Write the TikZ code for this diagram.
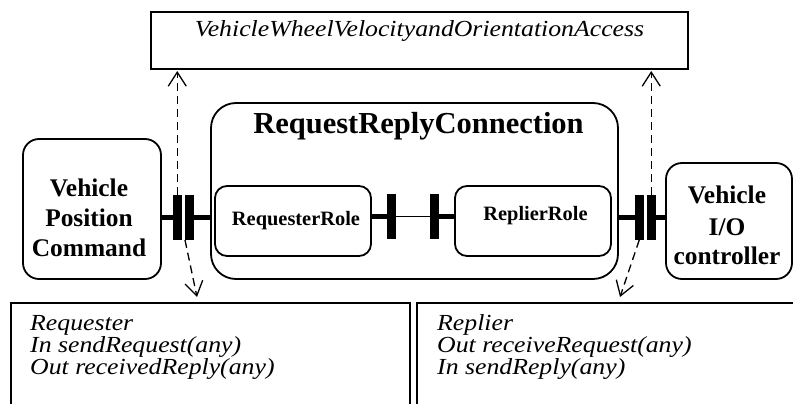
\documentclass[tikz,border=0pt]{standalone}
\usepackage{fontspec}
\setmainfont{Liberation Serif}
\newfontfamily\itf{Liberation Serif}[FakeStretch=1.12]
\usetikzlibrary{arrows.meta}
\begin{document}
\begin{tikzpicture}[x=1pt,y=-1pt,
  box/.style={draw,line width=1.8pt,inner sep=0pt,outer sep=0pt,anchor=north west},
  bar/.style={fill=black,inner sep=0pt,outer sep=0pt,minimum width=8.5pt,minimum height=45pt,anchor=north west},
  stem/.style={line width=5pt},
  wire/.style={line width=1.2pt},
  dep/.style={dash pattern=on 8pt off 5pt,line width=1.3pt,-{Straight Barb[length=14pt,width=18pt]}},
  ittxt/.style={inner sep=0pt,font=\itf\itshape\fontsize{23}{23}\selectfont},
  bigbold/.style={inner sep=0pt,anchor=base,font=\bfseries\fontsize{30.5}{30.5}\selectfont},
  midbold/.style={inner sep=0pt,anchor=base,font=\bfseries\fontsize{25.4}{25.4}\selectfont},
  smallbold/.style={inner sep=0pt,anchor=base,font=\bfseries\fontsize{20.4}{20.4}\selectfont}
]
\useasboundingbox (0,0) rectangle (793,404);
\clip (0,0) rectangle (793,404);
% boxes
\node[box,minimum width=537pt,minimum height=57pt] (top) at (151,12) {};
\node[box,rounded corners=16pt,minimum width=138pt,minimum height=140pt] (vpc) at (23,139) {};
\node[box,rounded corners=25pt,minimum width=407pt,minimum height=176pt] (rrc) at (211,103) {};
\node[box,rounded corners=12pt,minimum width=156pt,minimum height=70pt] (rqr) at (215,186) {};
\node[box,rounded corners=12pt,minimum width=156pt,minimum height=70pt] (rpr) at (455,186) {};
\node[box,rounded corners=16pt,minimum width=126pt,minimum height=116pt] (vio) at (666,163) {};
\node[box,minimum width=399pt,minimum height=130pt] (bl) at (11,303) {};
\node[box,minimum width=400pt,minimum height=130pt] (br) at (417,303) {};
% bars
\node[bar] (lb1) at (173,195) {};
\node[bar] (lb2) at (185,195) {};
\node[bar] (mb1) at (387,194) {};
\node[bar] (mb2) at (430,194) {};
\node[bar] (rb1) at (635,195) {};
\node[bar] (rb2) at (647,195) {};
% stems
\draw[stem] (vpc.east |- lb1.west) -- (lb1.west);
\draw[stem] (lb2.east) -- (lb2.east -| rrc.west);
\draw[stem] (rqr.east |- mb1.west) -- (mb1.west);
\draw[wire] (mb1.east) -- (mb2.west);
\draw[stem] (mb2.east) -- (mb2.east -| rpr.west);
\draw[stem] (rrc.east |- rb1.west) -- (rb1.west);
\draw[stem] (rb2.east) -- (rb2.east -| vio.west);
% dependencies
\coordinate (ld) at (197,297);
\coordinate (rd) at (620,297);
\draw[dep,shorten >=2pt] (lb1.north) -- (lb1.north |- top.south);
\draw[dep,shorten >=2pt] (rb2.north) -- (rb2.north |- top.south);
\draw[dep] (lb2.south west) -- (ld);
\draw[dep] (rb1.south) -- (rd);
% texts
\node[ittxt,anchor=base] (toptxt) at (419.5,37) {VehicleWheelVelocityandOrientationAccess};
\node[bigbold] (rrctxt) at (418.5,133) {RequestReplyConnection};
\node[midbold] (vpc1) at (89,196) {Vehicle};
\node[midbold] (vpc2) at (89,226) {Position};
\node[midbold] (vpc3) at (89,256) {Command};
\node[midbold] (vio1) at (727,203) {Vehicle};
\node[midbold] (vio2) at (727,235) {I/O};
\node[midbold] (vio3) at (727,264) {controller};
\node[smallbold] (rqrtxt) at (296,225) {RequesterRole};
\node[smallbold] (rprtxt) at (535.5,220) {ReplierRole};
\node[ittxt,anchor=base west] (bl1) at (30,330) {Requester};
\node[ittxt,anchor=base west] (bl2) at (30,352) {In sendRequest(any)};
\node[ittxt,anchor=base west] (bl3) at (30,374) {Out receivedReply(any)};
\node[ittxt,anchor=base west] (br1) at (437,330) {Replier};
\node[ittxt,anchor=base west] (br2) at (437,352) {Out receiveRequest(any)};
\node[ittxt,anchor=base west] (br3) at (437,374) {In sendReply(any)};
\end{tikzpicture}
\end{document}
